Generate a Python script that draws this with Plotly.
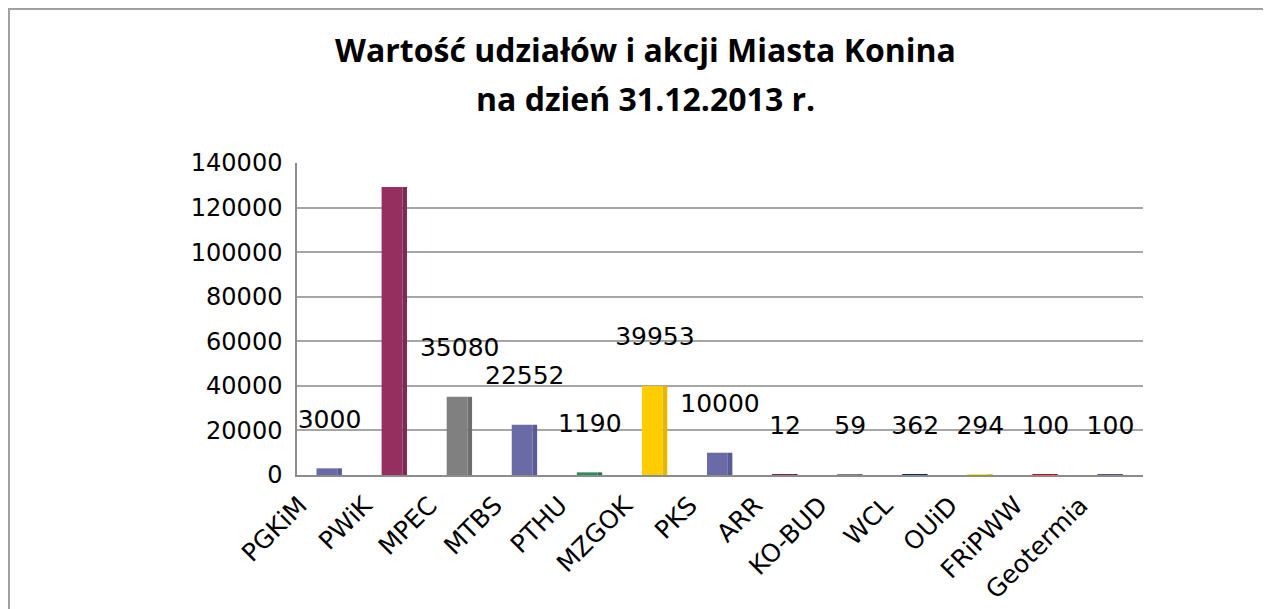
import plotly.graph_objects as go

categories = ["PGKiM", "PWiK", "MPEC", "MTBS", "PTHU", "MZGOK", "PKS", "ARR",
              "KO-BUD", "WCL", "OUiD", "FRiPWW", "Geotermia"]
values = [3000, 129185, 35080, 22552, 1190, 39953, 10000, 12, 59, 362, 294, 100, 100]
colors = ["#6A6AA6", "#952F60", "#808080", "#6A6AA6", "#2E8B57", "#FFCC00", "#6A6AA6",
          "#7A1F4E", "#7F7F7F", "#0D2D5E", "#F5F000", "#E00010", "#56567F"]
side_colors = ["#5A5A94", "#80284F", "#6E6E6E", "#5A5A94", "#25744A", "#E5B700", "#5A5A94",
               "#661A40", "#6A6A6A", "#0A244C", "#D8D300", "#C0000D", "#48486E"]
y_ticks = [0, 20000, 40000, 60000, 80000, 100000, 120000, 140000]

W, H = 1271, 609
PAGE = 8  # default page margin around the figure
L, R, T, B = 289, 136, 155, 142
plot_w = W - L - R
plot_h = H - T - B
label_offset = 21000


def px_x(p):
    return (p - PAGE - L) / plot_w


def px_y(p):
    return (H - B - (p - PAGE)) / plot_h


fig = go.Figure()
fig.add_trace(go.Bar(x=categories, y=values, marker=dict(color=colors, line=dict(width=0)),
                     width=0.32, offset=-0.2, hoverinfo="x+y"))
fig.add_trace(go.Bar(x=categories, y=values, marker=dict(color=side_colors, line=dict(width=0)),
                     width=0.07, offset=0.12, hoverinfo="skip"))
fig.add_trace(go.Scatter(x=categories, y=[v + label_offset for v in values], mode="text",
                         text=[str(v) for v in values], textposition="middle center",
                         textfont=dict(family="DejaVu Sans", size=25, color="#000000"),
                         cliponaxis=False, hoverinfo="skip"))

fig.update_layout(
    width=W, height=H,
    margin=dict(l=L, r=R, t=T, b=B),
    paper_bgcolor="white", plot_bgcolor="white",
    barmode="overlay", showlegend=False,
    font=dict(family="DejaVu Sans", color="#000000"),
    xaxis=dict(tickangle=-45, tickfont=dict(size=25), showgrid=False, zeroline=False,
               showline=True, linecolor="#8C8C8C", linewidth=1.5, ticks="",
               ticklabelshift=-30, ticklabelstandoff=4,
               range=[-0.5, len(categories) - 0.5]),
    yaxis=dict(range=[0, 140000], tickvals=y_ticks, ticktext=[str(t) for t in y_ticks],
               tickfont=dict(size=24), showgrid=True, gridcolor="#A6A6A6", gridwidth=1.5,
               zeroline=False, showline=True, linecolor="#8C8C8C", linewidth=1.5,
               ticks="", ticklabelstandoff=8),
    annotations=[
        dict(text="<b>Wartość udziałów i akcji Miasta Konina</b>", xref="paper", yref="paper",
             x=px_x(645), y=px_y(50), showarrow=False, xanchor="center", yanchor="middle",
             font=dict(family="Open Sans", size=32, color="#000000")),
        dict(text="<b>na dzień 31.12.2013 r.</b>", xref="paper", yref="paper",
             x=px_x(645), y=px_y(98), showarrow=False, xanchor="center", yanchor="middle",
             font=dict(family="Open Sans", size=32, color="#000000")),
    ],
    shapes=[
        dict(type="rect", xref="paper", yref="paper", x0=px_x(9), x1=px_x(1300),
             y0=px_y(640), y1=px_y(9), line=dict(color="#A0A0A0", width=2), layer="below"),
    ],
)

fig.write_html("out.html")
